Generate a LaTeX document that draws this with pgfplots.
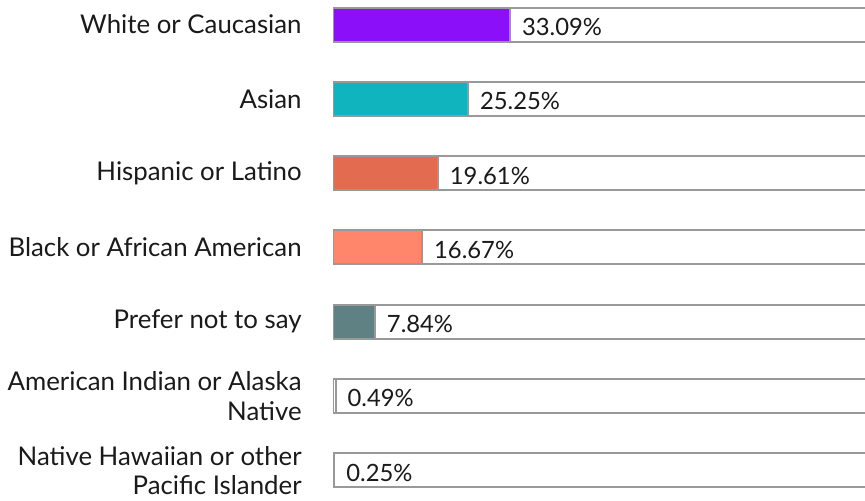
\documentclass[border=0pt]{standalone}
\usepackage{fontspec}
\setmainfont{Lato}
\usepackage{pgfplots}
\pgfplotsset{compat=1.18}

\definecolor{bordergray}{HTML}{999999}
\definecolor{cwhite}{HTML}{8B10F9}
\definecolor{casian}{HTML}{10B4BE}
\definecolor{chisp}{HTML}{E36B4F}
\definecolor{cblack}{HTML}{FF866A}
\definecolor{cpref}{HTML}{5F8184}
\definecolor{txt}{HTML}{1A1A1A}

\begin{document}
\begin{tikzpicture}
\useasboundingbox (0,0) rectangle (432.5pt,250pt);
\clip (0,0) rectangle (432.5pt,250pt);
\begin{axis}[
    at={(166.5pt,0pt)}, anchor=south west,
    scale only axis, width=267.5pt, height=250pt,
    xmin=0, xmax=100,
    ymin=-0.33, ymax=6.40, y dir=reverse,
    axis line style={draw=none},
    xtick=\empty,
    ytick={0,...,6},
    yticklabels={White or Caucasian, Asian, Hispanic or Latino,
        Black or African American, Prefer not to say,
        {American Indian or Alaska\\Native},
        {Native Hawaiian or other\\Pacific Islander}},
    major tick length=0pt,
    yticklabel style={align=right, text=txt,
        font=\fontsize{12.9}{14.6}\selectfont, inner sep=0pt, xshift=-15.5pt},
    xbar, bar width=17pt, bar shift=0pt,
    every axis plot/.append style={draw=bordergray, line width=1pt},
    point meta=explicit symbolic,
    nodes near coords,
    every node near coord/.append style={anchor=west, inner sep=0pt,
        xshift=5.5pt, yshift=-1.2pt, text=txt, font=\fontsize{11.9}{13}\selectfont},
]
% background boxes (100 %)
\addplot[fill=white, nodes near coords={}] coordinates {
    (100,0) (100,1) (100,2) (100,3) (100,4) (100,5) (100,6)};
\addplot[fill=cwhite] coordinates {(33.09,0) [33.09\%]};
\addplot[fill=casian] coordinates {(25.25,1) [25.25\%]};
\addplot[fill=chisp]  coordinates {(19.61,2) [19.61\%]};
\addplot[fill=cblack] coordinates {(16.67,3) [16.67\%]};
\addplot[fill=cpref]  coordinates {(7.84,4) [7.84\%]};
\addplot[fill=white]  coordinates {(0.49,5) [0.49\%]};
\addplot[fill=white]  coordinates {(0.25,6) [0.25\%]};
\end{axis}
\end{tikzpicture}
\end{document}
